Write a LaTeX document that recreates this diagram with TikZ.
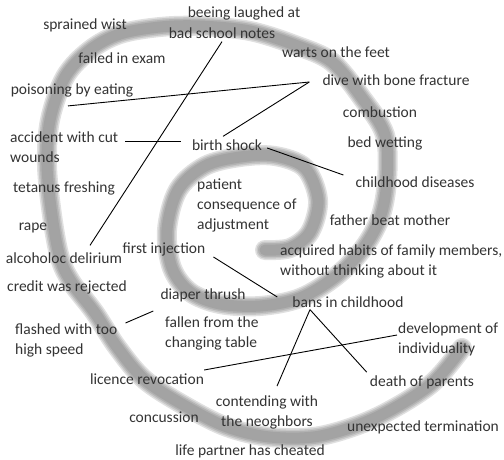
\documentclass[tikz,border=0pt]{standalone}
\usepackage{fontspec}
\setmainfont{Carlito}
\usetikzlibrary{calc}
\begin{document}
\begin{tikzpicture}[x=1pt,y=-1pt,
  lbl/.style={font=\fontsize{15.5}{20}\selectfont, text=black!80, inner sep=3pt},
  conn/.style={draw=black, line width=0.9pt},
  band/.style={draw=black!36, line width=11pt, line cap=round, line join=round,
    preaction={draw=black!12, line width=20pt, line cap=round, line join=round},
    preaction={draw=black!22, line width=17pt, line cap=round, line join=round},
    preaction={draw=black!30, line width=14pt, line cap=round, line join=round}}]
\fill[white] (0,0) rectangle (504,459);
\useasboundingbox (0,0) rectangle (504,459);
% spiral band
\draw[band] plot[smooth, tension=0.55] coordinates {
 (265,250) (290,248) (310,232) (318,200) (305,168) (275,156) (240,157) (205,166)
 (178,190) (167,230) (172,268) (190,292) (220,304) (260,306) (300,298) (335,277)
 (362,250) (380,218) (387,180) (385,135) (362,98) (332,62) (295,45) (250,31)
 (200,26) (160,27) (120,34) (90,50) (65,77) (50,120) (47,165) (52,215) (60,258)
 (72,283) (95,313) (117,347) (145,380) (187,407) (227,427) (270,437) (320,436)
 (375,418) (430,385) (462,348)};
% labels
\node[lbl] (wist) at (85,25) {sprained wist};
\node[lbl] (laugh) at (244,13) {beeing laughed at};
\node[lbl] (school) at (222,33) {bad school notes};
\node[lbl] (exam) at (122,58) {failed in exam};
\node[lbl] (warts) at (336,52) {warts on the feet};
\node[lbl] (poison) at (72,90) {poisoning by eating};
\node[lbl] (dive) at (396,80) {dive with bone fracture};
\node[lbl] (comb) at (380,112) {combustion};
\node[lbl] (bed) at (385,143) {bed wetting};
\node[lbl, align=left, anchor=west] (acc) at (7,147) {accident with cut\\wounds};
\node[lbl] (birth) at (227,145) {birth shock};
\node[lbl] (dis) at (415,182) {childhood diseases};
\node[lbl] (tet) at (64,188) {tetanus freshing};
\node[lbl, align=left, anchor=west] (pat) at (194,205) {patient\\consequence of\\adjustment};
\node[lbl] (father) at (390,220) {father beat mother};
\node[lbl] (rape) at (33,228) {rape};
\node[lbl] (alc) at (64,258) {alcoholoc delirium};
\node[lbl] (inj) at (164,249) {first injection};
\node[lbl, align=left, anchor=west] (habits) at (277,261) {acquired habits of family members,\\without thinking about it};
\node[lbl] (bans) at (348,302) {bans in childhood};
\node[lbl] (credit) at (67,287) {credit was rejected};
\node[lbl] (diaper) at (203,295) {diaper thrush};
\node[lbl, align=left, anchor=west] (flash) at (12,340) {flashed with too\\high speed};
\node[lbl, align=left, anchor=west] (fallen) at (162,333) {fallen from the\\changing table};
\node[lbl, align=left, anchor=west] (devel) at (395,339) {development of\\individuality};
\node[lbl] (lic) at (147,379) {licence revocation};
\node[lbl, align=center] (cont) at (267,412) {contending with\\the neoghbors};
\node[lbl] (death) at (422,382) {death of parents};
\node[lbl] (conc) at (164,417) {concussion};
\node[lbl] (unexp) at (423,427) {unexpected termination};
\node[lbl] (life) at (250,451) {life partner has cheated};
% junction points
\coordinate (divept) at ($(dive.west)+(-10,2)$);
\coordinate (bansA) at ($(bans.south)+(-38,-1)$);
% connectors
\draw[conn] (school.south) -- ($(alc.north)+(26,-4)$);
\draw[conn] ($(poison.south)+(-4,6)$) -- (divept);
\draw[conn] ($(birth.north)+(-4,0)$) -- (divept);
\draw[conn] ($(acc.east)+(4,-6)$) -- ($(birth.west)+(-8,-4)$);
\draw[conn] ($(birth.east)+(2,3)$) -- ($(dis.west)+(-9,-7)$);
\draw[conn] ($(inj.east)+(5,8)$) -- ($(bans.west)+(-12,-5)$);
\draw[conn] ($(flash.east)+(5,-17)$) -- ($(diaper.west)+(-4,16)$);
\draw[conn] ($(lic.east)+(-3,-9)$) -- ($(devel.west)+(2,-4)$);
\draw[conn] (bansA) -- ($(cont.north)+(10,-6)$);
\draw[conn] (bansA) -- (death.north west);
\end{tikzpicture}
\end{document}
